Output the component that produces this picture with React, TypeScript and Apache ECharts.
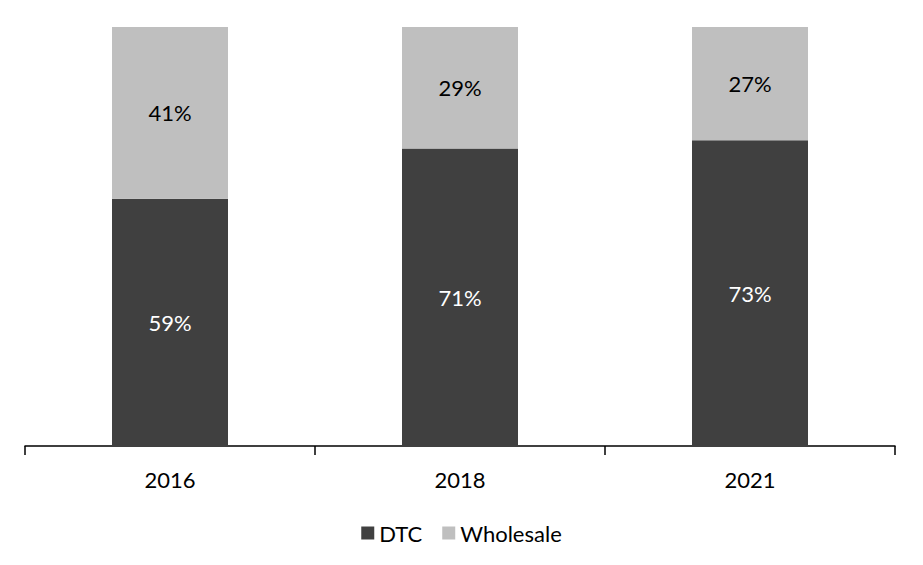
import React, { useEffect, useRef } from "react";
import * as echarts from "echarts";

const categories = ["2016", "2018", "2021"];
const dtcValues = [59, 71, 73];
const wholesaleValues = [41, 29, 27];

export default function App() {
  const ref = useRef<HTMLDivElement>(null);
  useEffect(() => {
    if (!ref.current) return;
    const chart = echarts.init(ref.current, undefined, { renderer: "svg" });
    const font = "Lato, 'Open Sans', sans-serif";
    chart.setOption({
      animation: false,
      grid: { left: 25, right: 28, top: 27, bottom: 565 - 446 },
      legend: {
        top: 517,
        left: "center",
        icon: "rect",
        itemWidth: 13,
        itemHeight: 13,
        itemGap: 20,
        textStyle: { fontFamily: font, fontSize: 22, color: "#000" },
        data: ["DTC", "Wholesale"],
      },
      xAxis: {
        type: "category",
        data: categories,
        boundaryGap: true,
        axisLine: { lineStyle: { color: "#000", width: 1.5 } },
        axisTick: { show: true, length: 9, lineStyle: { color: "#000", width: 1.5 } },
        axisLabel: { fontFamily: font, fontSize: 22, color: "#000", margin: 22 },
      },
      yAxis: {
        type: "value",
        min: 0,
        max: 100,
        show: false,
        splitLine: { show: false },
      },
      series: [
        {
          name: "DTC",
          type: "bar",
          stack: "total",
          data: dtcValues,
          barWidth: "40%",
          itemStyle: { color: "#404040" },
          label: {
            show: true,
            position: "inside",
            formatter: "{c}%",
            color: "#fff",
            fontFamily: font,
            fontSize: 22,
          },
        },
        {
          name: "Wholesale",
          type: "bar",
          stack: "total",
          data: wholesaleValues,
          barWidth: "40%",
          itemStyle: { color: "#BFBFBF" },
          label: {
            show: true,
            position: "inside",
            formatter: "{c}%",
            color: "#000",
            fontFamily: font,
            fontSize: 22,
          },
        },
      ],
    });
    return () => chart.dispose();
  }, []);
  return (
    <div
      ref={ref}
      style={{ position: "fixed", left: 0, top: 0, width: 923, height: 565, background: "#fff" }}
    />
  );
}
